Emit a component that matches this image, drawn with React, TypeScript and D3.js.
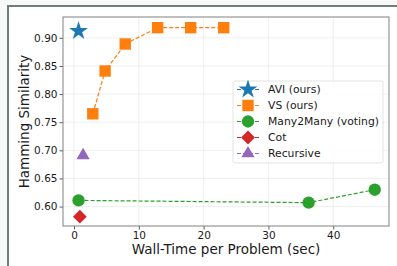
import { useEffect, useRef } from 'react';
import { axisBottom, axisLeft, line, scaleLinear, select, symbol, symbolCircle, symbolSquare, symbolStar, symbolTriangle } from 'd3';

const aviX = [0.7];
const aviY = [0.912];
const vsX = [2.9, 4.8, 7.9, 12.9, 18.0, 23.1];
const vsY = [0.765, 0.841, 0.889, 0.918, 0.918, 0.918];
const m2mX = [0.7, 36.2, 46.4];
const m2mY = [0.611, 0.607, 0.63];
const cotX = [0.9];
const cotY = [0.582];
const recX = [1.4];
const recY = [0.691];

const xTicks = [0, 10, 20, 30, 40];
const yTicks = [0.6, 0.65, 0.7, 0.75, 0.8, 0.85, 0.9];

const seriesNames = ['AVI (ours)', 'VS (ours)', 'Many2Many (voting)', 'Cot', 'Recursive'];
const seriesColors = ['#1f77b4', '#ff7f0e', '#2ca02c', '#d62728', '#9467bd'];

const font = 'DejaVu Sans, sans-serif';

export default function App() {
  const ref = useRef<SVGSVGElement>(null);

  useEffect(() => {
    const svg = select(ref.current);
    svg.selectAll('*').remove();

    const W = 397, H = 266;
    const margin = { left: 63, top: 17, right: 8, bottom: 40 };
    const width = W - margin.left - margin.right;
    const height = H - margin.top - margin.bottom;

    // outer panel frame
    svg.append('rect').attr('width', W).attr('height', H).attr('fill', '#f7f8f8');
    svg.append('rect').attr('x', 8).attr('y', 5).attr('width', W - 8).attr('height', H - 5).attr('fill', '#fff');
    svg.append('path').attr('d', `M8,${H} L8,6 L${W},6`).attr('fill', 'none').attr('stroke', '#6e7c7c').attr('stroke-width', 2);

    const g = svg.append('g').attr('transform', `translate(${margin.left},${margin.top})`);

    const x = scaleLinear().domain([-1.7, 48.6]).range([0, width]);
    const y = scaleLinear().domain([0.5655, 0.937]).range([height, 0]);

    // grid
    g.append('g').selectAll('line').data(xTicks).join('line')
      .attr('x1', (d) => x(d)).attr('x2', (d) => x(d)).attr('y1', 0).attr('y2', height)
      .attr('stroke', '#ebebeb').attr('stroke-width', 0.8);
    g.append('g').selectAll('line').data(yTicks).join('line')
      .attr('y1', (d) => y(d)).attr('y2', (d) => y(d)).attr('x1', 0).attr('x2', width)
      .attr('stroke', '#ebebeb').attr('stroke-width', 0.8);

    const styleAxis = (a: any) => {
      a.select('.domain').remove();
      a.selectAll('line').attr('stroke', '#333').attr('stroke-width', 0.8);
      a.selectAll('text').attr('font-family', font).attr('font-size', 10.5).attr('fill', '#1a1a1a');
    };

    g.append('g').attr('transform', `translate(0,${height})`)
      .call(axisBottom(x).tickValues(xTicks).tickSize(3.5).tickPadding(2).tickFormat((d) => String(d)))
      .call(styleAxis);
    g.append('g')
      .call(axisLeft(y).tickValues(yTicks).tickSize(3.5).tickPadding(2).tickFormat((d: any) => d.toFixed(2)))
      .call(styleAxis);

    g.append('rect').attr('width', width).attr('height', height)
      .attr('fill', 'none').attr('stroke', '#808080').attr('stroke-width', 1);

    const ln = line<[number, number]>().x((d) => x(d[0])).y((d) => y(d[1]));
    const drawLine = (xs: number[], ys: number[], c: string) => {
      g.append('path').attr('d', ln(xs.map((v, i) => [v, ys[i]]))!)
        .attr('fill', 'none').attr('stroke', c).attr('stroke-width', 1.2).attr('stroke-dasharray', '4,2');
    };
    const drawPts = (xs: number[], ys: number[], c: string, type: any, size: number, rot = 0) => {
      g.append('g').selectAll('path').data(xs.map((v, i) => [v, ys[i]])).join('path')
        .attr('transform', (d) => `translate(${x(d[0])},${y(d[1])}) rotate(${rot})`)
        .attr('d', symbol(type, size)()!)
        .attr('fill', c);
    };

    drawLine(vsX, vsY, seriesColors[1]);
    drawLine(m2mX, m2mY, seriesColors[2]);
    drawPts(aviX, aviY, seriesColors[0], symbolStar, 110);
    drawPts(vsX, vsY, seriesColors[1], symbolSquare, 130);
    drawPts(m2mX, m2mY, seriesColors[2], symbolCircle, 120);
    drawPts(cotX, cotY, seriesColors[3], symbolSquare, 95, 45);
    drawPts(recX, recY, seriesColors[4], symbolTriangle, 75);

    // legend
    const types = [symbolStar, symbolSquare, symbolCircle, symbolSquare, symbolTriangle];
    const sizes = [110, 130, 120, 95, 75];
    const rots = [0, 0, 0, 45, 0];
    const lg = svg.append('g').attr('transform', 'translate(233,81)');
    lg.append('rect').attr('width', 150).attr('height', 82).attr('rx', 2)
      .attr('fill', '#fff').attr('fill-opacity', 0.85).attr('stroke', '#dcdcdc').attr('stroke-width', 0.8);
    seriesNames.forEach((name, i) => {
      const cy = 8.5 + i * 16;
      lg.append('line').attr('x1', 4).attr('x2', 26).attr('y1', cy).attr('y2', cy)
        .attr('stroke', seriesColors[i]).attr('stroke-width', 1.2).attr('stroke-dasharray', '4,2');
      lg.append('path').attr('transform', `translate(15,${cy}) rotate(${rots[i]})`).attr('d', symbol(types[i], sizes[i])()!)
        .attr('fill', seriesColors[i]);
      lg.append('text').attr('x', 35).attr('y', cy).attr('dy', '0.35em')
        .attr('font-family', font).attr('font-size', 10.8).attr('fill', '#1a1a1a').text(name);
    });

    // axis labels
    svg.append('text').attr('x', margin.left + width / 2).attr('y', 254)
      .attr('text-anchor', 'middle').attr('font-family', font).attr('font-size', 13.5).attr('fill', '#1a1a1a')
      .text('Wall-Time per Problem (sec)');
    svg.append('text').attr('transform', `translate(29,${margin.top + height / 2}) rotate(-90)`)
      .attr('text-anchor', 'middle').attr('font-family', font).attr('font-size', 13.5).attr('fill', '#1a1a1a')
      .text('Hamming Similarity');
  }, []);

  return <svg ref={ref} width={397} height={266} style={{ position: 'absolute', left: 0, top: 0 }} />;
}
